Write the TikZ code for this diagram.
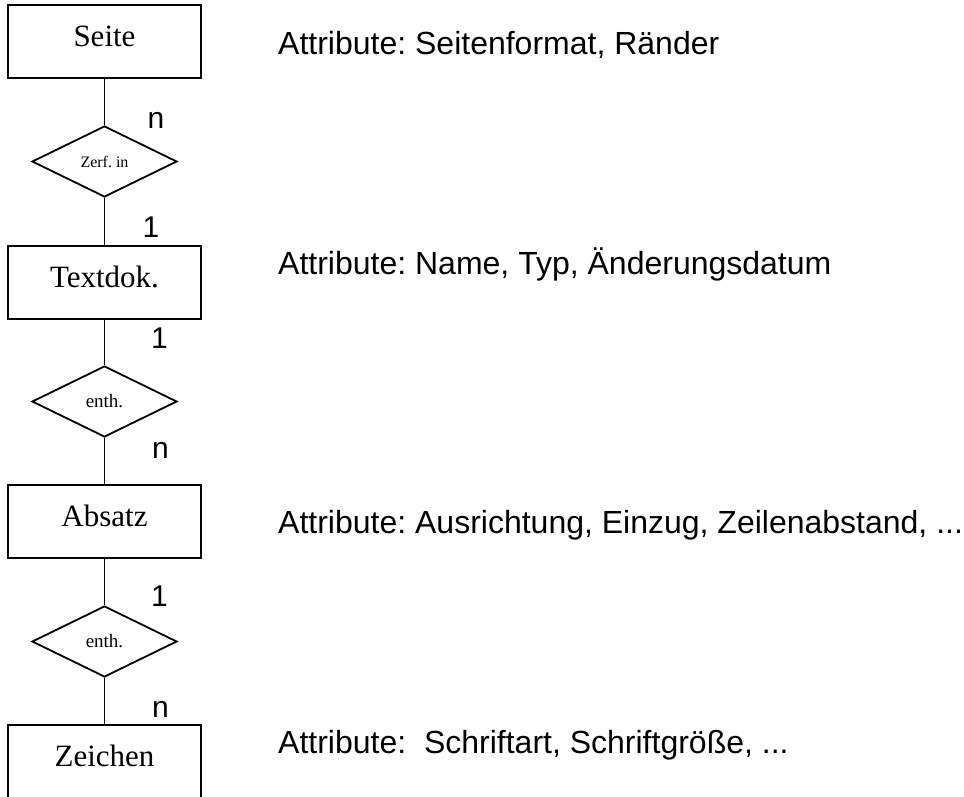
\documentclass[tikz,border=0pt]{standalone}
\usepackage{fontspec}
\setmainfont{Liberation Serif}
\newfontfamily\arialfont{Liberation Sans}
\usetikzlibrary{shapes.geometric}
\frenchspacing

\tikzset{
  entity/.style={draw, line width=1.8pt, minimum width=193pt, minimum height=73pt,
    inner sep=0pt, text height=18pt, text depth=9pt, font=\fontsize{31}{31}\selectfont},
  relation/.style={draw, diamond, line width=1.8pt, minimum width=145pt,
    minimum height=71pt, inner sep=0pt},
  card/.style={inner sep=0pt, anchor=base, font=\arialfont\fontsize{30}{30}\selectfont},
  attr/.style={inner sep=0pt, anchor=base west, font=\arialfont\fontsize{32}{32}\selectfont},
}

\begin{document}
\begin{tikzpicture}[x=1pt, y=-1pt]
  \useasboundingbox (0,0) rectangle (964,796);

  % Entities
  \node[entity] (a) at (104.5, 41.5) {Seite};
  \node[entity] (b) at (104.5, 282.5) {Textdok.};
  \node[entity] (c) at (104.5, 521.5) {Absatz};
  \node[entity] (d) at (104.5, 761.5) {Zeichen};

  % Relations
  \node[relation, font=\fontsize{16}{16}\selectfont] (ab) at (104.5, 161.5) {Zerf. in};
  \node[relation, font=\fontsize{19}{19}\selectfont] (bc) at (104.5, 401.5) {enth.};
  \node[relation, font=\fontsize{19}{19}\selectfont] (cd) at (104.5, 641.5) {enth.};

  \draw[line width=1.8pt] (a) -- (ab) -- (b) -- (bc) -- (c) -- (cd) -- (d);

  % Cardinalities
  \node[card] (n1) at (156, 128) {n};
  \node[card] (e1) at (151, 237) {1};
  \node[card] (e2) at (159.5, 348) {1};
  \node[card] (n2) at (160.5, 458) {n};
  \node[card] (e3) at (159.5, 606) {1};
  \node[card] (n3) at (160.5, 717) {n};

  % Attributes
  \node[attr] (at1) at (278, 54) {Attribute: Seitenformat, Ränder};
  \node[attr] (at2) at (278, 274) {Attribute: Name, Typ, Änderungsdatum};
  \node[attr] (at3) at (278, 533) {Attribute: Ausrichtung, Einzug, Zeilenabstand, ...};
  \node[attr] (at4) at (278, 753) {Attribute:\ \ Schriftart, Schriftgröße, ...};
\end{tikzpicture}
\end{document}
